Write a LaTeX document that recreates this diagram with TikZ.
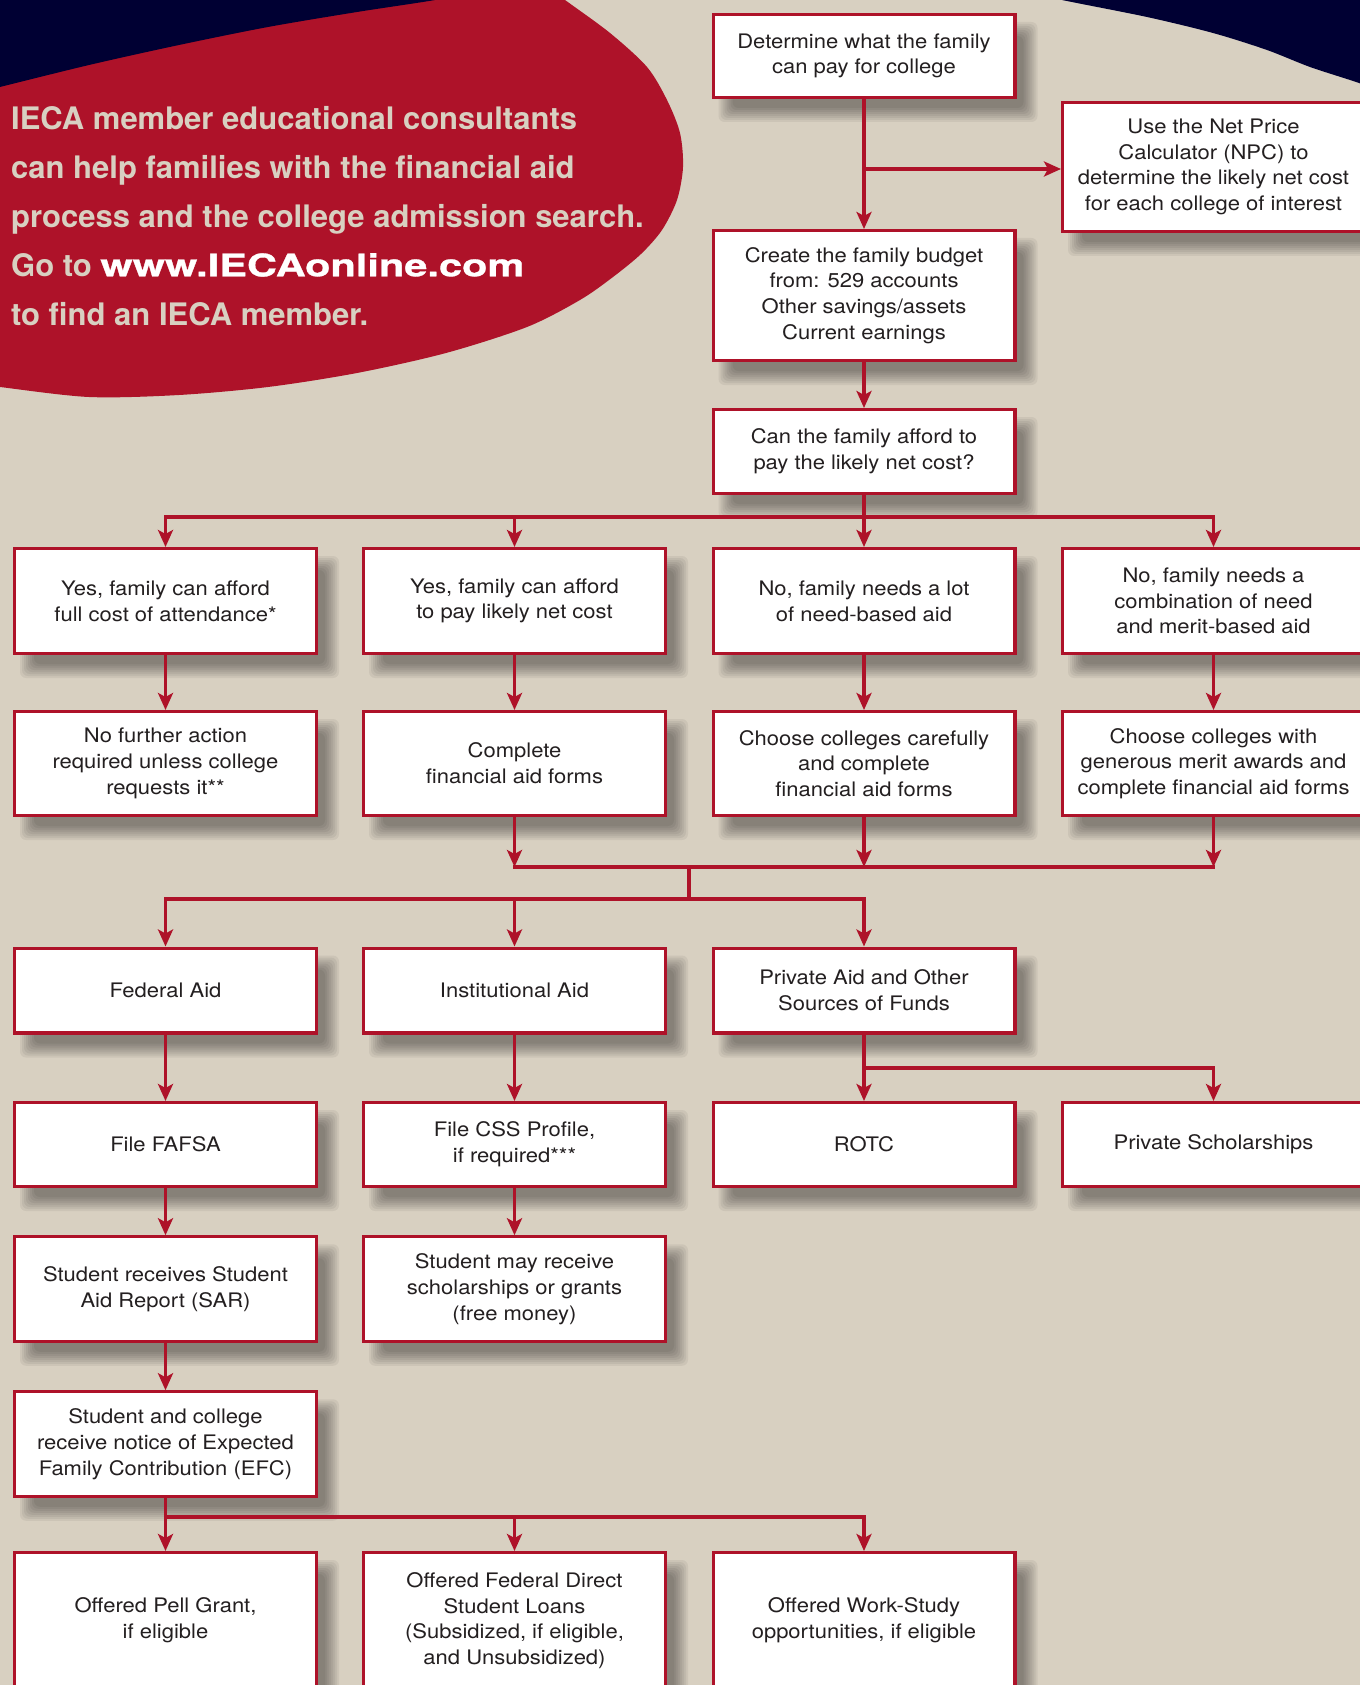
\documentclass[tikz,border=0pt]{standalone}
\usepackage{fontspec}
\setmainfont{TeX Gyre Heros}
\newfontfamily\boxfont{TeX Gyre Heros}[FakeStretch=1.1]
\newfontfamily\headfont{TeX Gyre Heros}
\newfontfamily\urlfont{TeX Gyre Heros}[FakeStretch=1.34,FakeBold=1]
\usetikzlibrary{arrows.meta,calc}
\definecolor{iecared}{HTML}{AE1229}
\definecolor{ieanavy}{HTML}{000033}
\definecolor{iebeige}{HTML}{D8D0C1}
\definecolor{boxtext}{HTML}{231F20}
\pgfdeclarelayer{bgl}
\pgfdeclarelayer{shl}
\pgfsetlayers{bgl,shl,main}
\newcommand\shadowfor[1]{%
  \begin{pgfonlayer}{shl}
    \foreach \i in {-7,-5,...,7}{%
      \fill[black,opacity=0.055,rounded corners=6pt] ($(#1.north west)+(14+\i,16+\i)$) rectangle ($(#1.south east)+(14-\i,16-\i)$);
    }
  \end{pgfonlayer}}
\tikzset{
  fbox/.style={draw=iecared, line width=3.2pt, fill=white, inner sep=0pt, align=center,
    text=boxtext, font=\boxfont\fontsize{20}{25.7}\selectfont, minimum width=301.8pt},
  conn/.style={draw=iecared, line width=3.3pt},
  arr/.style={conn, -{Stealth[length=17pt,width=15pt,inset=4pt]}},
}
\begin{document}
\begin{tikzpicture}[x=1pt,y=-1pt]
\useasboundingbox (0,0) rectangle (1359,1685);
\begin{pgfonlayer}{bgl}
  \fill[iebeige] (-5,-5) rectangle (1365,1690);
  \fill[iecared] (-30,-30) -- plot[smooth] coordinates {(528,-27) (565,0) (610,33) (647,67) (667,100) (680,133) (683,167) (677,200) (662,230) (641,254) (613,277) (580,300) (527,327) (446,353) (357,373) (268,387) (179,395) (89,397) (0,387) (-30,383)} -- cycle;
  \fill[ieanavy] (-30,-30) -- (-30,95) -- plot[smooth] coordinates {(0,87) (89,65) (179,45) (268,27) (357,12) (435,0) (470,-8)} -- (470,-30) -- cycle;
  \fill[ieanavy] (1040,-30) -- plot[smooth] coordinates {(1045,-5) (1062,0) (1147,17) (1213,33) (1267,50) (1310,67) (1359,83) (1380,92)} -- (1380,-30) -- cycle;
\end{pgfonlayer}

\node[anchor=north west, inner sep=0pt, align=left, text=iebeige,
  font=\headfont\bfseries\fontsize{31}{49}\selectfont] (head) at (11,106)
  {IECA member educational consultants\\can help families with the financial aid\\process and the college admission search.\\Go to {\color{white}\urlfont\bfseries www.IECAonline.com}\\to find an IECA member.};

% column centres 165.5, 514.5, 864, 1213.5
\node[fbox, minimum height=82.8pt] (det) at (864,56) {Determine what the family\\can pay for college};
\node[fbox, minimum height=128.8pt] (npc) at (1213.5,167) {Use the Net Price\\Calculator (NPC) to\\determine the likely net cost\\for each college of interest};
\node[fbox, minimum height=129.8pt] (bud) at (864,295.5) {Create the family budget\\from: 529 accounts\\Other savings/assets\\Current earnings};
\node[fbox, minimum height=83.8pt] (can) at (864,451.5) {Can the family afford to\\pay the likely net cost?};

\node[fbox, minimum height=104.8pt] (r3a) at (165.5,601) {Yes, family can afford\\full cost of attendance*};
\node[fbox, minimum height=104.8pt] (r3b) at (514.5,601) {Yes, family can afford\\to pay likely net cost};
\node[fbox, minimum height=104.8pt] (r3c) at (864,601) {No, family needs a lot\\of need-based aid};
\node[fbox, minimum height=104.8pt] (r3d) at (1213.5,601) {No, family needs a\\combination of need\\and merit-based aid};

\node[fbox, minimum height=103.8pt] (r4a) at (165.5,763.5) {No further action\\required unless college\\requests it**};
\node[fbox, minimum height=103.8pt] (r4b) at (514.5,763.5) {Complete\\financial aid forms};
\node[fbox, minimum height=103.8pt] (r4c) at (864,763.5) {Choose colleges carefully\\and complete\\financial aid forms};
\node[fbox, minimum height=103.8pt] (r4d) at (1213.5,763.5) {Choose colleges with\\generous merit awards and\\complete financial aid forms};

\node[fbox, minimum height=84.8pt] (fed) at (165.5,990.5) {Federal Aid};
\node[fbox, minimum height=84.8pt] (inst) at (514.5,990.5) {Institutional Aid};
\node[fbox, minimum height=84.8pt] (priv) at (864,990.5) {Private Aid and Other\\Sources of Funds};

\node[fbox, minimum height=83.8pt] (fafsa) at (165.5,1144.5) {File FAFSA};
\node[fbox, minimum height=83.8pt] (css) at (514.5,1144.5) {File CSS Profile,\\if required***};
\node[fbox, minimum height=83.8pt] (rotc) at (864,1144.5) {ROTC};
\node[fbox, minimum height=83.8pt] (psch) at (1213.5,1144.5) {Private Scholarships};

\node[fbox, minimum height=104.3pt] (sar) at (165.5,1289) {Student receives Student\\Aid Report (SAR)};
\node[fbox, minimum height=104.3pt] (may) at (514.5,1289) {Student may receive\\scholarships or grants\\(free money)};

\node[fbox, minimum height=104.3pt] (efc) at (165.5,1444) {Student and college\\receive notice of Expected\\Family Contribution (EFC)};

\node[fbox, minimum height=135.8pt] (pell) at (165.5,1620.5) {Offered Pell Grant,\\if eligible};
\node[fbox, minimum height=135.8pt] (loan) at (514.5,1620.5) {Offered Federal Direct\\Student Loans\\(Subsidized, if eligible,\\and Unsubsidized)};
\node[fbox, minimum height=135.8pt] (work) at (864,1620.5) {Offered Work-Study\\opportunities, if eligible};

\foreach \n in {det,npc,bud,can,r3a,r3b,r3c,r3d,r4a,r4b,r4c,r4d,fed,inst,priv,fafsa,css,rotc,psch,sar,may,efc,pell,loan,work}{\shadowfor{\n}}

\coordinate (jn) at (864,169);
\coordinate (j1) at (864,517);
\coordinate (m1) at (689,867);
\coordinate (m2) at (689,899);
\coordinate (p1) at (864,1068);
\coordinate (e1) at (165.5,1517);

\draw[arr] (det) -- (bud);
\draw[arr] (jn) -- (jn -| npc.west);
\draw[arr] (bud) -- (can);
\draw[conn] (can) -- (j1);
\draw[arr] (j1) -| (r3a);
\draw[arr] (j1) -| (r3b);
\draw[arr] (j1) -- (r3c);
\draw[arr] (j1) -| (r3d);
\draw[arr] (r3a) -- (r4a);
\draw[arr] (r3b) -- (r4b);
\draw[arr] (r3c) -- (r4c);
\draw[arr] (r3d) -- (r4d);
\draw[arr] (r4b) -- (r4b |- m1);
\draw[arr] (r4c) -- (r4c |- m1);
\draw[arr] (r4d) -- (r4d |- m1);
\draw[conn, line cap=rect] (r4b |- m1) -- (r4d |- m1);
\draw[conn] (m1) -- (m2);
\draw[arr] (m2) -| (fed);
\draw[arr] (m2) -| (inst);
\draw[arr] (m2) -| (priv);
\draw[arr] (fed) -- (fafsa);
\draw[arr] (inst) -- (css);
\draw[arr] (priv) -- (rotc);
\draw[arr] (p1) -| (psch);
\draw[arr] (fafsa) -- (sar);
\draw[arr] (css) -- (may);
\draw[arr] (sar) -- (efc);
\draw[arr] (efc) -- (pell);
\draw[arr] (e1) -| (loan);
\draw[arr] (e1) -| (work);
\end{tikzpicture}
\end{document}
